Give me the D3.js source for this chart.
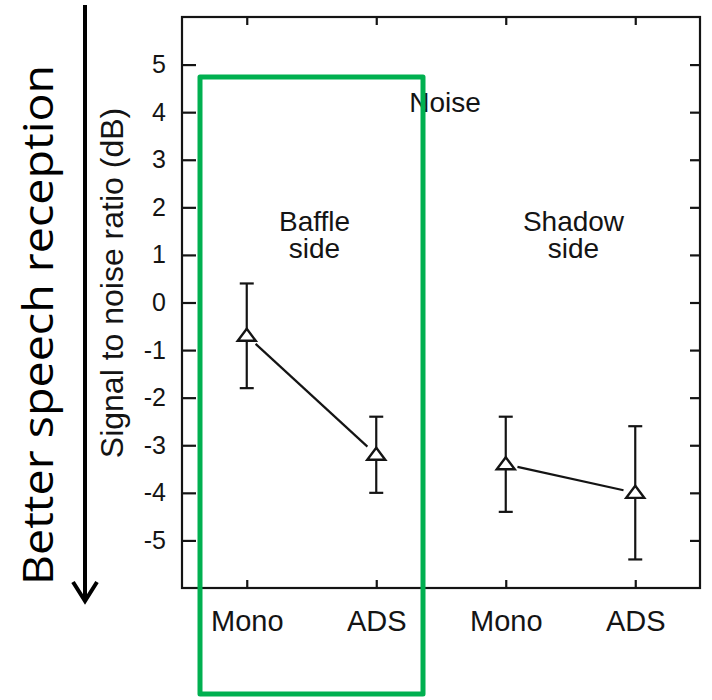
<!DOCTYPE html>
<html>
<head>
<meta charset="utf-8">
<script src="https://cdn.jsdelivr.net/npm/d3@7"></script>
<style>
  body { margin: 0; background: #fff; }
</style>
</head>
<body>
<div id="chart"></div>
<script>
// Data
var categories = ["Mono", "ADS", "Mono", "ADS"];
var groups = ["Baffle side", "Shadow side"];
var means = [-0.7, -3.2, -3.4, -4.0];
var upper = [0.4, -2.4, -2.4, -2.6];
var lower = [-1.8, -4.0, -4.4, -5.4];
var yTicks = [-5, -4, -3, -2, -1, 0, 1, 2, 3, 4, 5];
var panelTitle = "Noise";
var yTitle = "Signal to noise ratio (dB)";
var sideNote = "Better speech reception";

// Styles
var fontFamily = "'Liberation Sans', Arial, Helvetica, sans-serif";
var ink = "#141414";
var green = "#00B050";
var lineW = 2.2;

const width = 712;
const height = 700;

// Plot frame (note: "top" is reserved on window, so prefix these)
var frameLeft = 182, frameRight = 700, frameTop = 17, frameBottom = 588;

var svg = d3.select("#chart")
	.append("svg")
	.attr("width", width)
	.attr("height", height);

var idx = d3.range(categories.length);

var x = d3.scalePoint()
	.domain(idx)
	.range([frameLeft, frameRight])
	.padding(0.5);

var y = d3.scaleLinear()
	.domain([-6, 6])
	.range([frameBottom, frameTop]);

// Axes, ticks pointing inward on all four sides
var gLeft = svg.append("g")
	.attr("transform", "translate(" + frameLeft + ",0)")
	.call(d3.axisLeft(y).tickValues(yTicks).tickSizeInner(-14).tickSizeOuter(0).tickPadding(16)
		.tickFormat(function(d){ return String(d); }));  // plain hyphen, like the figure

var gRight = svg.append("g")
	.attr("transform", "translate(" + frameRight + ",0)")
	.call(d3.axisRight(y).tickValues(yTicks).tickSizeInner(-10).tickSizeOuter(0).tickFormat(""));

var gTop = svg.append("g")
	.attr("transform", "translate(0," + frameTop + ")")
	.call(d3.axisTop(x).tickSizeInner(-8).tickSizeOuter(0).tickFormat(""));

var gBottom = svg.append("g")
	.attr("transform", "translate(0," + frameBottom + ")")
	.call(d3.axisBottom(x).tickSizeInner(-8).tickSizeOuter(0).tickPadding(22)
		.tickFormat(function(i){ return categories[i]; }));

[gLeft, gRight, gTop, gBottom].forEach(function(g){
	g.select(".domain").remove();
	g.selectAll(".tick line").attr("stroke", ink).attr("stroke-width", lineW);
	g.selectAll(".tick text")
		.attr("fill", ink)
		.style("font-family", fontFamily);
});
gLeft.selectAll(".tick text").style("font-size", "25px");
gBottom.selectAll(".tick text").style("font-size", "29px");

svg.append("rect")
	.attr("x", frameLeft)
	.attr("y", frameTop)
	.attr("width", frameRight - frameLeft)
	.attr("height", frameBottom - frameTop)
	.attr("fill", "none")
	.attr("stroke", ink)
	.attr("stroke-width", lineW);

// Y axis title
svg.append("text")
	.attr("transform", "translate(123,283) rotate(-90)")
	.attr("text-anchor", "middle")
	.style("font-family", fontFamily)
	.style("font-size", "32px")
	.attr("fill", ink)
	.text(yTitle);

// Panel title and group labels
svg.append("text")
	.attr("x", (frameLeft + frameRight) / 2 + 4)
	.attr("y", 112)
	.attr("text-anchor", "middle")
	.style("font-family", fontFamily)
	.style("font-size", "28px")
	.attr("fill", ink)
	.text(panelTitle);

groups.forEach(function(name, gi){
	var cx = (x(gi * 2) + x(gi * 2 + 1)) / 2 + 3;
	name.split(" ").forEach(function(w, wi){
		svg.append("text")
			.attr("x", cx)
			.attr("y", 231 + wi * 27)
			.attr("text-anchor", "middle")
			.style("font-family", fontFamily)
			.style("font-size", "28px")
			.attr("fill", ink)
			.text(w);
	});
});

// Error bars
var capHalf = 7;
var bars = svg.append("g")
	.attr("stroke", ink)
	.attr("stroke-width", lineW);

idx.forEach(function(i){
	var cx = x(i);
	bars.append("line").attr("x1", cx).attr("x2", cx).attr("y1", y(upper[i])).attr("y2", y(lower[i]));
	bars.append("line").attr("x1", cx - capHalf).attr("x2", cx + capHalf).attr("y1", y(upper[i])).attr("y2", y(upper[i]));
	bars.append("line").attr("x1", cx - capHalf).attr("x2", cx + capHalf).attr("y1", y(lower[i])).attr("y2", y(lower[i]));
});

// Connecting lines, stopped short of the markers
var gap = 12;
groups.forEach(function(name, gi){
	var a = gi * 2, b = gi * 2 + 1;
	var x1 = x(a), y1 = y(means[a]), x2 = x(b), y2 = y(means[b]);
	var len = Math.sqrt((x2 - x1) * (x2 - x1) + (y2 - y1) * (y2 - y1));
	var ux = (x2 - x1) / len, uy = (y2 - y1) / len;
	svg.append("line")
		.attr("x1", x1 + ux * gap)
		.attr("y1", y1 + uy * gap)
		.attr("x2", x2 - ux * gap)
		.attr("y2", y2 - uy * gap)
		.attr("stroke", ink)
		.attr("stroke-width", lineW);
});

// Triangle markers
svg.append("g")
	.selectAll("path")
	.data(idx)
	.enter().append("path")
	.attr("d", "M0,-7L9,5L-9,5Z")
	.attr("transform", function(i){ return "translate(" + x(i) + "," + y(means[i]) + ")"; })
	.attr("fill", "#fff")
	.attr("stroke", ink)
	.attr("stroke-width", 2.4)
	.attr("stroke-linejoin", "miter");

// Green highlight box around the baffle side
svg.append("rect")
	.attr("x", 200)
	.attr("y", 77)
	.attr("width", 223)
	.attr("height", 617)
	.attr("fill", "none")
	.attr("stroke", green)
	.attr("stroke-width", 5)
	.attr("stroke-linejoin", "round");

// Side arrow and note
svg.append("line")
	.attr("x1", 85).attr("y1", 5)
	.attr("x2", 85).attr("y2", 600)
	.attr("stroke", "#000")
	.attr("stroke-width", 4);

svg.append("polyline")
	.attr("points", "73,582 85,601 97,582")
	.attr("fill", "none")
	.attr("stroke", "#000")
	.attr("stroke-width", 4);

svg.append("text")
	.attr("transform", "translate(53,325) rotate(-90)")
	.attr("text-anchor", "middle")
	.style("font-family", "'Open Sans', Lato, sans-serif")
	.style("font-size", "42px")
	.attr("fill", "#000")
	.attr("textLength", 520)
	.attr("lengthAdjust", "spacingAndGlyphs")
	.text(sideNote);
</script>
</body>
</html>
